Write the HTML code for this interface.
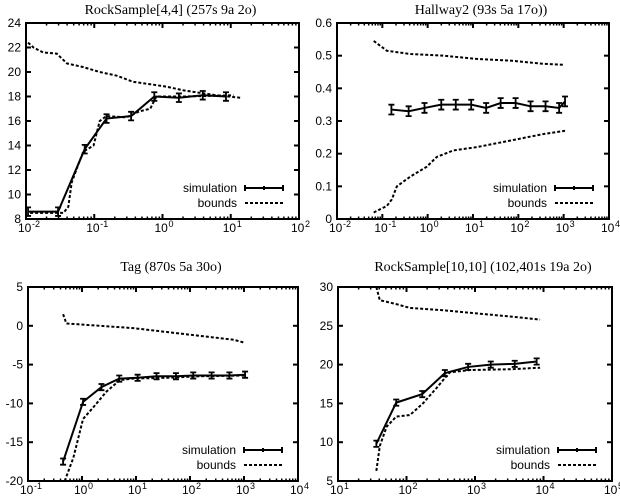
<!DOCTYPE html>
<html><head><meta charset="utf-8"><style>
body{margin:0;background:#fff;}
svg{display:block;}
.tl{font-family:"Liberation Sans",sans-serif;font-size:12px;fill:#000;}
.tt{font-family:"Liberation Serif",serif;font-size:14px;fill:#000;}
</style></head><body>
<svg id="chart" width="620" height="502"></svg>
<script>
// Panel 1: RockSample[4,4]
const p1SimX=[-1.97,-1.53,-1.14,-0.82,-0.46,-0.12,0.24,0.59,0.93];
const p1SimY=[8.6,8.6,13.7,16.2,16.4,18.0,17.9,18.1,18.0];
const p1UpX=[-1.97,-1.89,-1.75,-1.55,-1.40,-1.16,-0.92,-0.67,-0.43,-0.18,0.06,0.31,0.55,0.79,1.14];
const p1UpY=[22.4,22.0,21.6,21.5,20.7,20.4,20.0,19.7,19.2,19.0,18.8,18.5,18.3,18.1,17.9];
const p1LoX=[-1.94,-1.45,-1.38,-1.33,-1.23,-1.16,-1.01,-0.92,-0.82,-0.53,-0.33,-0.18,-0.09,0.31,1.04];
const p1LoY=[8.5,8.5,9.0,11.0,12.5,13.5,14.0,16.0,16.4,16.3,16.8,17.0,18.0,18.0,18.1];
const p1YTicks=[8,10,12,14,16,18,20,22,24];
// Panel 2: Hallway2
const p2SimX=[-0.80,-0.42,-0.07,0.30,0.62,0.96,1.29,1.61,1.94,2.27,2.60,2.90,3.03];
const p2SimY=[0.335,0.33,0.34,0.35,0.35,0.35,0.34,0.355,0.355,0.345,0.345,0.34,0.36];
const p2UpX=[-1.19,-0.90,-0.38,0.35,1.08,1.82,2.55,2.99];
const p2UpY=[0.545,0.515,0.505,0.5,0.49,0.485,0.475,0.472];
const p2LoX=[-1.19,-0.90,-0.79,-0.68,-0.38,-0.02,0.20,0.57,1.08,1.82,2.55,3.03];
const p2LoY=[0.02,0.04,0.06,0.10,0.13,0.16,0.19,0.21,0.22,0.24,0.26,0.27];
const p2YTicks=[0,0.1,0.2,0.3,0.4,0.5,0.6];
// Panel 3: Tag
const p3SimX=[-0.35,0.02,0.36,0.69,1.03,1.38,1.74,2.06,2.40,2.73,3.02];
const p3SimY=[-17.5,-9.8,-7.9,-6.8,-6.7,-6.5,-6.5,-6.4,-6.4,-6.4,-6.3];
const p3UpX=[-0.35,-0.29,0.33,0.95,1.57,2.19,2.81,3.02];
const p3UpY=[1.5,0.3,0.0,-0.3,-0.8,-1.3,-1.8,-2.2];
const p3LoX=[-0.32,-0.16,0.02,0.21,0.45,0.70,0.95,1.57,2.19,3.02];
const p3LoY=[-20,-17,-12,-10.5,-8.5,-7,-6.8,-6.7,-6.5,-6.4];
const p3YTicks=[-20,-15,-10,-5,0,5];
// Panel 4: RockSample[10,10]
const p4SimX=[1.56,1.85,2.23,2.56,2.90,3.23,3.58,3.90];
const p4SimY=[9.8,15.1,16.2,18.9,19.7,20.0,20.1,20.4];
const p4UpX=[1.56,1.61,1.85,2.05,2.54,3.02,3.51,3.95];
const p4UpY=[30,28.3,27.8,27.3,27.0,26.6,26.2,25.8];
const p4LoX=[1.56,1.61,1.71,1.85,2.05,2.24,2.44,2.63,2.93,3.51,3.95];
const p4LoY=[6.3,9.5,12,13.3,13.5,15,17,19,19.3,19.4,19.6];
const p4YTicks=[5,10,15,20,25,30];

const NS="http://www.w3.org/2000/svg";
const svg=document.getElementById('chart');
function mk(tag,attrs,parent){const e=document.createElementNS(NS,tag);for(const k in attrs)e.setAttribute(k,attrs[k]);(parent||svg).appendChild(e);return e;}

const panels=[
 {id:'p1',title:'RockSample[4,4] (257s 9a 2o)',l:26,r:299,t:23,b:219,x0:-2,x1:2,y0:8,y1:24,yt:p1YTicks,sx:p1SimX,sy:p1SimY,err:0.35,ux:p1UpX,uy:p1UpY,lx:p1LoX,ly:p1LoY,ty:10},
 {id:'p2',title:'Hallway2 (93s 5a 17o))',l:337,r:609,t:23,b:219,x0:-2,x1:4,y0:0,y1:0.6,yt:p2YTicks,sx:p2SimX,sy:p2SimY,err:0.015,ux:p2UpX,uy:p2UpY,lx:p2LoX,ly:p2LoY,ty:10},
 {id:'p3',title:'Tag (870s 5a 30o)',l:28,r:298,t:287,b:481,x0:-1,x1:4,y0:-20,y1:5,yt:p3YTicks,sx:p3SimX,sy:p3SimY,err:0.4,ux:p3UpX,uy:p3UpY,lx:p3LoX,ly:p3LoY,ty:267},
 {id:'p4',title:'RockSample[10,10] (102,401s 19a 2o)',l:338,r:612,t:287,b:481,x0:1,x1:5,y0:5,y1:30,yt:p4YTicks,sx:p4SimX,sy:p4SimY,err:0.4,ux:p4UpX,uy:p4UpY,lx:p4LoX,ly:p4LoY,ty:267}
];

panels.forEach(p=>{
 const g=mk('g',{});
 
 
 const X=v=>p.l+(v-p.x0)/(p.x1-p.x0)*(p.r-p.l);
 const Y=v=>p.b-(v-p.y0)/(p.y1-p.y0)*(p.b-p.t);
 const tt=mk('text',{x:(p.l+p.r)/2+8,y:p.ty+4,'text-anchor':'middle',class:'tt'},g);
 tt.textContent=p.title;
 
 
 for(let d=p.x0;d<=p.x1;d++){
  const x=X(d);
  mk('line',{x1:x,y1:p.b,x2:x,y2:p.b-5,stroke:'#000','stroke-width':2},g);
  mk('line',{x1:x,y1:p.t,x2:x,y2:p.t+5,stroke:'#000','stroke-width':2},g);
  if(d<p.x1){for(let m=2;m<10;m++){const xm=X(d+Math.log10(m));
   mk('line',{x1:xm,y1:p.b,x2:xm,y2:p.b-2.5,stroke:'#000','stroke-width':1.5},g);
   mk('line',{x1:xm,y1:p.t,x2:xm,y2:p.t+2.5,stroke:'#000','stroke-width':1.5},g);}}
  const t=mk('text',{x:x-8,y:p.b+13,'text-anchor':'start',class:'tl'},g);
  t.textContent='10';
  
  
  const s=mk('text',{x:x+6,y:p.b+8,class:'tl'},g);
  s.setAttribute('style','font-size:9px');
  s.textContent=String(d);
 }
 p.yt.forEach(v=>{
  const y=Y(v);
  mk('line',{x1:p.l,y1:y,x2:p.l+5,y2:y,stroke:'#000','stroke-width':2},g);
  mk('line',{x1:p.r,y1:y,x2:p.r-5,y2:y,stroke:'#000','stroke-width':2},g);
  const t=mk('text',{x:p.l-5,y:y+4,'text-anchor':'end',class:'tl'},g);
  t.textContent=String(v);
  
  
 });
 mk('rect',{x:p.l,y:p.t,width:p.r-p.l,height:p.b-p.t,fill:'none',stroke:'#000','stroke-width':2},g);
 const mkLine=(xs,ys,name)=>{const pl=mk('polyline',{points:xs.map((x,i)=>X(x)+','+Y(ys[i])).join(' '),fill:'none',stroke:'#000','stroke-width':2,'stroke-dasharray':'3,2'},g);
  
  };
 mkLine(p.ux,p.uy,'upper-bound-line');
 mkLine(p.lx,p.ly,'lower-bound-line');
 const sl=mk('polyline',{points:p.sx.map((x,i)=>X(x)+','+Y(p.sy[i])).join(' '),fill:'none',stroke:'#000','stroke-width':2},g);
 
 
 p.sx.forEach((xv,i)=>{
  const x=X(xv),y1=Y(p.sy[i]+p.err),y2=Y(p.sy[i]-p.err);
  const e=mk('path',{d:`M${x},${y1}V${y2}M${x-3},${y1}H${x+3}M${x-3},${y2}H${x+3}`,stroke:'#000','stroke-width':1.8,fill:'none'},g);
  
  
 });
 const ly1=p.b-31,ly2=p.b-16,lx0=p.r-54,lx1=p.r-16;
 const t1=mk('text',{x:p.r-62,y:ly1+4,'text-anchor':'end',class:'tl'},g);t1.textContent='simulation';
 
 
 mk('path',{d:`M${lx0},${ly1}H${lx1}M${lx0},${ly1-3}V${ly1+3}M${lx1},${ly1-3}V${ly1+3}M${(lx0+lx1)/2},${ly1-2}V${ly1+2}`,stroke:'#000','stroke-width':2},g);
 const t2=mk('text',{x:p.r-62,y:ly2+4,'text-anchor':'end',class:'tl'},g);t2.textContent='bounds';
 
 
 mk('line',{x1:lx0,y1:ly2,x2:lx1,y2:ly2,stroke:'#000','stroke-width':2,'stroke-dasharray':'3,2'},g);
});
</script>
</body></html>
